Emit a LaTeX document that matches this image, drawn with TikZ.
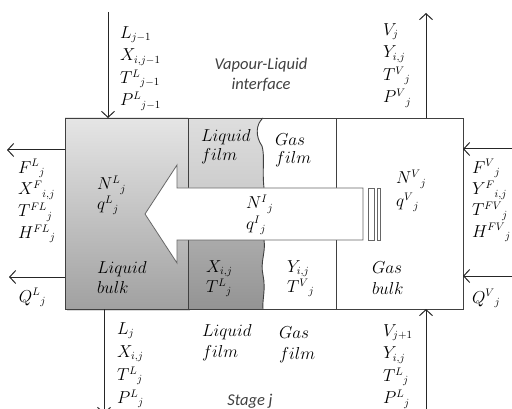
\documentclass[tikz,border=0pt]{standalone}
\usepackage{fontspec}
\newfontfamily\notefont{Carlito}
\usetikzlibrary{arrows.meta, shadows}

\begin{document}
\begin{tikzpicture}[
    x=1pt, y=-1pt,
    >={Straight Barb[length=6pt, width=13pt]},
    every node/.style={inner sep=0pt, outer sep=0pt},
    stream/.style={font=\fontsize{16}{22.5}\selectfont, align=left, anchor=north west},
    pair/.style={font=\fontsize{16}{20}\selectfont, align=left, anchor=north west},
    note/.style={font=\fontsize{16.5}{20}\selectfont\notefont\itshape, text=black!75, align=center},
    phase/.style={draw=black!75, line width=0.9pt},
    flow/.style={->, draw=black!85, line width=1pt},
    film/.style={draw=black!75, line width=0.9pt},
    flux/.style={draw=black!60, fill=white, line width=0.8pt},
]
\useasboundingbox (0,0) rectangle (512,409);

% Bulk phases
\node[phase, top color=black!10, bottom color=black!37, minimum width=123pt, minimum height=191pt,
      drop shadow={shadow xshift=1.5pt, shadow yshift=-2pt, opacity=0.3}] (Lbulk) at (126.5,213.5) {};
\node[phase, fill=white, minimum width=127pt, minimum height=191pt] (Gbulk) at (399.5,213.5) {};

% Films
\shade[top color=black!13, bottom color=black!22] (188,118) -- (263,118)
    .. controls (256,124) and (255,136) .. (262,146)
    .. controls (265,156) and (262,170) .. (264,188) -- (264,214) -- (188,214) -- cycle;
\shade[top color=black!30, bottom color=black!42] (188,214) -- (264,214) -- (264,240)
    .. controls (266,252) and (260,262) .. (263,275)
    .. controls (266,290) and (262,300) .. (263,309) -- (188,309) -- cycle;
\draw[film] (Lbulk.north east) -- (Gbulk.north west);
\draw[film] (Lbulk.south east) -- (Gbulk.south west);
\draw[film] (Lbulk.north east) -- (Lbulk.south east);
\draw[film] (263,118)
    .. controls (256,124) and (255,136) .. (262,146)
    .. controls (265,156) and (262,170) .. (264,188) -- (264,240)
    .. controls (266,252) and (260,262) .. (263,275)
    .. controls (266,290) and (262,300) .. (263,309);

% Interfacial flux arrow
\draw[flux] (363,188) -- (177,188) -- (177,165) -- (145,214) -- (177,263) -- (177,240) -- (363,240) -- cycle;
\draw[flux] (368,188) rectangle (374,240);
\draw[flux] (377,188) rectangle (380,240);

% Streams
\coordinate (inL)  at (108,12);
\coordinate (outV) at (426,13);
\coordinate (outF) at (7,150);
\coordinate (outQ) at (9,277);
\coordinate (inF)  at (512,149);
\coordinate (inQ)  at (512,276);
\coordinate (outL) at (104,414);
\coordinate (inV)  at (426,409);
\draw[flow] (inL) -- (inL |- Lbulk.north);
\draw[flow] (outV |- Gbulk.north) -- (outV);
\draw[flow] (outF -| Lbulk.west) -- (outF);
\draw[flow] (outQ -| Lbulk.west) -- (outQ);
\draw[flow] (inF) -- (inF -| Gbulk.east);
\draw[flow] (inQ) -- (inQ -| Gbulk.east);
\draw[flow] (outL |- Lbulk.south) -- (outL);
\draw[flow] (inV) -- (inV |- Gbulk.south);

% Stream labels
\node[stream] (inLtxt)  at (120,26.5)  {$L_{j-1}$\\$X_{i,j-1}$\\$T^{L}{}_{j-1}$\\$P^{L}{}_{j-1}$};
\node[stream] (outVtxt) at (383,23.5)  {$V_{j}$\\$Y_{i,j}$\\$T^{V}{}_{j}$\\$P^{V}{}_{j}$};
\node[stream, font=\fontsize{16}{21.7}\selectfont] (outFtxt) at (18,159.5)
    {$F^{L}{}_{j}$\\$X^{F}{}_{i,j}$\\$T^{FL}{}_{j}$\\$H^{FL}{}_{j}$};
\node[stream, font=\fontsize{16}{21.3}\selectfont] (inFtxt) at (472,159.5)
    {$F^{V}{}_{j}$\\$Y^{F}{}_{i,j}$\\$T^{FV}{}_{j}$\\$H^{FV}{}_{j}$};
\node[stream] (outQtxt) at (19,288.5)  {$Q^{L}{}_{j}$};
\node[stream] (inQtxt)  at (472,289.5) {$Q^{V}{}_{j}$};
\node[stream, font=\fontsize{16}{23}\selectfont] (outLtxt) at (117,322.5) {$L_{j}$\\$X_{i,j}$\\$T^{L}{}_{j}$\\$P^{L}{}_{j}$};
\node[stream] (inVtxt)  at (383,324.5) {$V_{j+1}$\\$Y_{i,j}$\\$T^{L}{}_{j}$\\$P^{L}{}_{j}$};

% Phase labels
\node[pair] (LbulkN)  at (97,176)  {$N^{L}{}_{j}$\\$q^{L}{}_{j}$};
\node[pair] (LbulkT)  at (97,261.5)  {$Liquid$\\$bulk$};
\node[pair, font=\fontsize{16}{19}\selectfont] (LfilmT) at (201,129.5) {$Liquid$\\$film$};
\node[pair] (LfilmX)  at (206,260.5) {$X_{i,j}$\\$T^{L}{}_{j}$};
\node[pair, font=\fontsize{16}{18}\selectfont] (GfilmT) at (275,133.5) {$Gas$\\$film$};
\node[pair, font=\fontsize{16}{21}\selectfont] (fluxN) at (246,195) {$N^{I}{}_{j}$\\$q^{I}{}_{j}$};
\node[pair] (GfilmY)  at (287,260.5) {$Y_{i,j}$\\$T^{V}{}_{j}$};
\node[pair, font=\fontsize{16}{21}\selectfont] (GbulkT) at (372,261.5) {$Gas$\\$bulk$};
\node[pair, font=\fontsize{16}{23}\selectfont] (GbulkN) at (396,170) {$N^{V}{}_{j}$\\$q^{V}{}_{j}$};
\node[pair, font=\fontsize{16}{20.5}\selectfont] (LfilmB) at (202,324.5) {$Liquid$\\$film$};
\node[pair, font=\fontsize{16}{21}\selectfont] (GfilmB) at (279,326.5) {$Gas$\\$film$};

% Notes
\node[note, anchor=base] (iface) at (261,90) {Vapour-Liquid\\interface};
\node[note, anchor=base] (stage) at (250,405) {Stage j};

\end{tikzpicture}
\end{document}
